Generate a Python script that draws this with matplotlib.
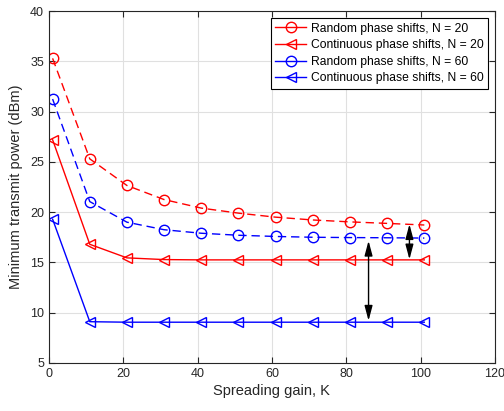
import numpy as np
import matplotlib
matplotlib.use("Agg")
import matplotlib.pyplot as plt
from matplotlib.lines import Line2D

plt.rcParams['font.family'] = ['Liberation Sans', 'DejaVu Sans']

# donnees
K = [1, 11, 21, 31, 41, 51, 61, 71, 81, 91, 101]
rand_20 = [35.3, 25.3, 22.65, 21.25, 20.4, 19.9, 19.5, 19.22, 19.03, 18.88, 18.72]
cont_20 = [27.2, 16.8, 15.45, 15.28, 15.25, 15.25, 15.25, 15.25, 15.25, 15.25, 15.25]
rand_60 = [31.25, 21.05, 19.0, 18.25, 17.9, 17.7, 17.58, 17.5, 17.47, 17.45, 17.42]
cont_60 = [19.3, 9.1, 9.05, 9.05, 9.05, 9.05, 9.05, 9.05, 9.05, 9.05, 9.05]
labels = ['Random phase shifts, N = 20', 'Continuous phase shifts, N = 20',
          'Random phase shifts, N = 60', 'Continuous phase shifts, N = 60']

# fleches (x, y debut, y fin)
arrow1 = (97, 18.8, 15.3)
arrow2 = (86, 17.15, 9.2)

fig = plt.figure(figsize=(5.04, 4.11), dpi=100)
ax = fig.add_axes([0.097, 0.117, 0.885, 0.856])

ms = 7.5
dash = (6, 3.5)
ax.plot(K, rand_20, 'r--o', mfc='none', ms=ms, lw=1, dashes=dash)
ax.plot(K, cont_20, 'r-<', mfc='none', ms=ms, lw=1)
ax.plot(K, rand_60, 'b--o', mfc='none', ms=ms, lw=1, dashes=dash)
ax.plot(K, cont_60, 'b-<', mfc='none', ms=ms, lw=1)

for xa, y0, y1 in [arrow1, arrow2]:
    ax.annotate('', xy=(xa, y0), xytext=(xa, y1),
                arrowprops=dict(arrowstyle='<|-|>,head_width=0.2,head_length=0.75',
                                color='k', lw=1, mutation_scale=12,
                                shrinkA=0, shrinkB=0))

ax.set_xlim(0, 120)
ax.set_ylim(5, 40)
ax.set_xticks(np.arange(0, 121, 20))
ax.set_yticks(np.arange(5, 41, 5))
ax.grid(True, color='#e0e0e0', lw=0.8)
ax.set_axisbelow(True)
ax.tick_params(direction='in', top=True, right=True, labelsize=9,
               colors='#262626', length=4)
for s in ax.spines.values():
    s.set_color('#262626')
ax.set_xlabel('Spreading gain, K', fontsize=10.5, color='#262626', labelpad=3)
ax.set_ylabel('Minimum transmit power (dBm)', fontsize=10.5, color='#262626', labelpad=5)

# legende : traits pleins comme dans la figure d'origine
handles = [Line2D([], [], color='r', marker='o', mfc='none', ms=ms, lw=1),
           Line2D([], [], color='r', marker='<', mfc='none', ms=ms, lw=1),
           Line2D([], [], color='b', marker='o', mfc='none', ms=ms, lw=1),
           Line2D([], [], color='b', marker='<', mfc='none', ms=ms, lw=1)]
leg = ax.legend(handles, labels, loc='upper right', fontsize=8.75, fancybox=False,
                framealpha=1, edgecolor='k', borderaxespad=0.6, handlelength=2.5,
                labelspacing=0.38, borderpad=0.35, handletextpad=0.4)
leg.get_frame().set_linewidth(0.8)

fig.savefig('out.png', dpi=100)
